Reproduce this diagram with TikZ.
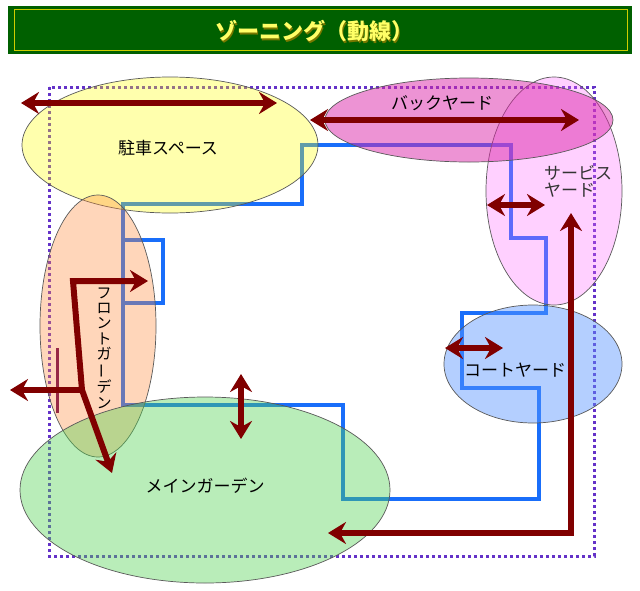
\documentclass[tikz,border=0pt]{standalone}
\usepackage{fontspec}
\newfontfamily\jp{Noto Sans CJK JP}
\usetikzlibrary{arrows.meta}
\definecolor{titlegreen}{RGB}{0,96,0}
\definecolor{titleyellow}{RGB}{255,255,102}
\definecolor{titleframe}{RGB}{205,205,0}
\definecolor{titleshadow}{RGB}{120,120,0}
\definecolor{routeblue}{RGB}{25,110,250}
\definecolor{arrowred}{RGB}{128,0,0}
\definecolor{gatered}{RGB}{150,40,70}
\definecolor{dotpurple}{RGB}{100,50,200}
\definecolor{zyellow}{RGB}{255,255,0}
\definecolor{zmagenta}{RGB}{220,40,170}
\definecolor{zpink}{RGB}{255,100,255}
\definecolor{zsalmon}{RGB}{255,140,60}
\definecolor{zblue}{RGB}{90,150,255}
\definecolor{zgreen}{RGB}{80,210,80}
\begin{document}
\begin{tikzpicture}[x=1pt,y=-1pt,
  zone/.style={draw=black!65,line width=0.7pt},
  route/.style={draw=routeblue,line width=4pt,line join=miter},
  arr/.style={draw=arrowred,line width=6pt,line join=miter,
    arrows={Stealth[length=18pt,width=22pt,inset=6pt]-Stealth[length=18pt,width=22pt,inset=6pt]}},
  arrone/.style={draw=arrowred,line width=6pt,
    -{Stealth[length=18pt,width=22pt,inset=6pt]}},
  lbl/.style={font=\jp\fontsize{17}{17}\selectfont,text=black,inner sep=0pt}]
\useasboundingbox (0,0) rectangle (640,590);
\fill[white] (0,0) rectangle (640,590);
% title
\fill[titlegreen] (8,6) rectangle (632,54);
\draw[titleframe,line width=1pt] (14,9.5) rectangle (627.5,50.5);
\node[font=\jp\bfseries\fontsize{22}{22}\selectfont,text=titleshadow,inner sep=0pt] (titleshadow) at (315.5,32.5) {ゾーニング（動線）};
\node[font=\jp\bfseries\fontsize{22}{22}\selectfont,text=titleyellow,inner sep=0pt] (title) at (314,31) {ゾーニング（動線）};
% dotted site boundary
\draw[dotpurple,line width=3pt,dash pattern=on 3pt off 3pt] (49,87) rectangle (594,556);
% circulation route
\draw[route] (302,145) -- (302,204) -- (123,204) -- (123,405) -- (343,405) -- (343,499)
  -- (539,499) -- (539,388) -- (462,388) -- (462,313) -- (546,313) -- (546,238)
  -- (511,238) -- (511,145) -- cycle;
\draw[route] (123,240) -- (163,240) -- (163,303) -- (123,303);
% zones
\path[zone,fill=zyellow,fill opacity=0.32] (170,145) ellipse [x radius=148pt,y radius=68pt];
\path[zone,fill=zsalmon,fill opacity=0.35] (98,326) ellipse [x radius=58pt,y radius=131pt];
\path[zone,fill=zgreen,fill opacity=0.4] (205,490) ellipse [x radius=185pt,y radius=93pt];
\path[zone,fill=zpink,fill opacity=0.3] (554,191) ellipse [x radius=68pt,y radius=114pt];
\path[zone,fill=zmagenta,fill opacity=0.5] (469,120) ellipse [x radius=144pt,y radius=42pt];
\path[zone,fill=zblue,fill opacity=0.45] (533,364) ellipse [x radius=89pt,y radius=59pt];
% arrow end points
\coordinate (pkL) at (21,103);  \coordinate (pkR) at (277,103);
\coordinate (byL) at (310,120); \coordinate (byR) at (579,120);
\coordinate (syL) at (487,205); \coordinate (syR) at (545,205);
\coordinate (cyL) at (445,348); \coordinate (cyR) at (503,348);
\coordinate (mgT) at (241,374); \coordinate (mgB) at (241,439);
\coordinate (svT) at (571,213); \coordinate (svC) at (571,533); \coordinate (svL) at (328,533);
\coordinate (fgA) at (148,281); \coordinate (fgB) at (73,281); \coordinate (fgC) at (82,390);
\coordinate (fgD) at (112,473); \coordinate (exW) at (10,390);
% gate bar
\fill[gatered] (55.5,348) rectangle (59,413);
% arrows
\draw[arr] (pkL) -- (pkR);
\draw[arr] (byL) -- (byR);
\draw[arr] (syL) -- (syR);
\draw[arr] (cyL) -- (cyR);
\draw[arr] (mgT) -- (mgB);
\draw[arr] (svL) -- (svC) -- (svT);
\draw[arr] (fgA) -- (fgB) -- (fgC) -- (fgD);
\draw[arrone] (fgC) -- (exW);
% labels
\node[lbl] (parking) at (168,148) {駐車スペース};
\node[lbl] (backyard) at (442,103) {バックヤード};
\node[lbl,text=black!80,anchor=west,align=left,font=\jp\fontsize{17}{17}\selectfont] (service) at (544,181) {サービス\\ヤード};
\node[lbl,align=center,font=\jp\fontsize{15}{15.3}\selectfont] (front) at (104,348)
  {フ\\ロ\\ン\\ト\\ガ\\\rotatebox[origin=c]{90}{ー}\\デ\\ン};
\node[lbl] (court) at (515,370) {コートヤード};
\node[lbl] (main) at (205,486) {メインガーデン};
\end{tikzpicture}
\end{document}
